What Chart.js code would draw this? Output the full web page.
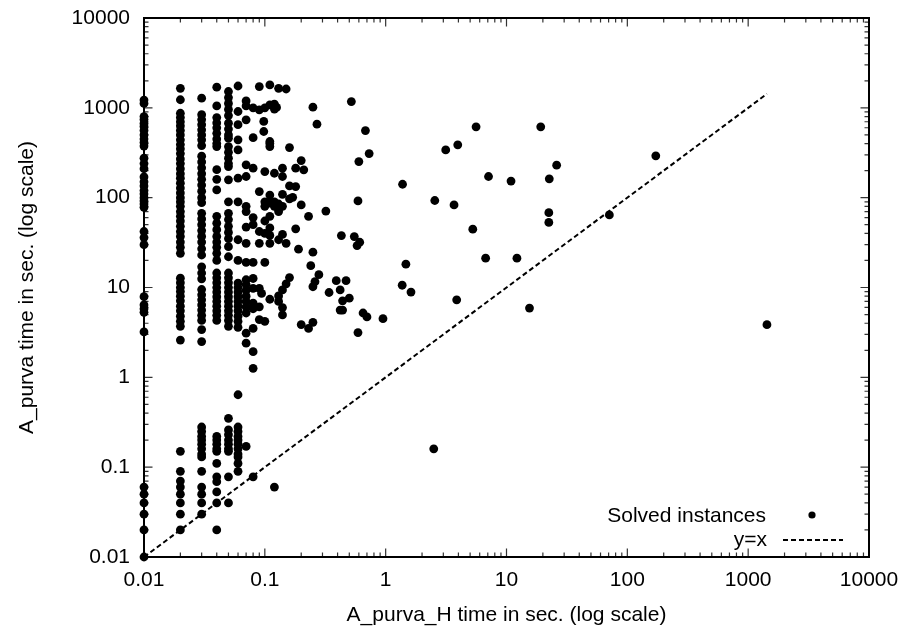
<!DOCTYPE html>
<html>
<head>
<meta charset="utf-8">
<script src="https://cdn.jsdelivr.net/npm/chart.js@4.4.1/dist/chart.umd.min.js"></script>
<style>
  body { margin: 0; background: #fff; }
  #wrap { width: 908px; height: 629px; }
</style>
</head>
<body>
<div id="wrap"><canvas id="grafico" width="908" height="629"></canvas></div>
<script>
// ticks (decades) used on both axes
const decades = [0.01, 0.1, 1, 10, 100, 1000, 10000];

// A_purva time (y) of instances whose A_purva_H time (x) sits on a discrete column
const col001 = [1220, 1120, 800, 740, 670, 620, 560, 500, 450, 410, 375, 275, 240, 210, 170, 150, 135, 120, 110, 100, 92, 85, 78, 42, 36, 30, 7.9, 6.4, 5.8, 5.3, 3.2, 0.06, 0.05, 0.04, 0.03, 0.02, 0.01];
const col002 = [1650, 1230, 870, 780, 700, 630, 560, 500, 440, 390, 350, 310, 270, 240, 210, 185, 165, 145, 128, 113, 100, 90, 80, 70, 62, 55, 48, 42, 37, 32, 28, 24, 12.7, 11.3, 10, 9, 8, 7.1, 6.2, 5.5, 4.8, 4.2, 3.7, 2.6, 0.15, 0.09, 0.07, 0.06, 0.05, 0.04, 0.03, 0.02];
const col003 = [1280, 840, 740, 650, 570, 500, 440, 380, 290, 250, 215, 185, 160, 138, 118, 100, 88, 67, 58, 50, 43, 37, 32, 27, 23, 17, 14.5, 12.5, 9.5, 8.3, 7.3, 6.4, 5.6, 4.9, 4.3, 3.4, 2.5, 0.28, 0.25, 0.22, 0.2, 0.18, 0.16, 0.14, 0.13, 0.09, 0.06, 0.05, 0.04, 0.03];
const col004 = [1700, 1050, 780, 680, 600, 520, 450, 400, 370, 205, 160, 122, 62, 52, 44, 37, 32, 28, 24, 20, 14.5, 12.8, 11.3, 10, 8.9, 7.9, 7, 6.2, 5.5, 4.9, 4.3, 0.22, 0.2, 0.18, 0.16, 0.15, 0.11, 0.078, 0.069, 0.053, 0.04, 0.02];
const col005 = [1520, 1300, 1120, 960, 820, 675, 580, 500, 460, 370, 320, 275, 240, 222, 158, 90, 67, 57, 48, 41, 35, 28.5, 22, 14.5, 12.8, 11.3, 10, 8.9, 7.9, 7, 6.2, 5.5, 4.9, 4.3, 3.7, 0.35, 0.26, 0.23, 0.2, 0.18, 0.16, 0.15, 0.078, 0.04];
const col006 = [1750, 910, 650, 440, 340, 165, 90, 34, 20, 11.2, 10, 8.9, 7.9, 7, 6.2, 5.5, 4.8, 4.2, 3.6, 0.64, 0.28, 0.25, 0.22, 0.2, 0.18, 0.16, 0.14, 0.13, 0.11, 0.09];
const col007 = [1195, 1050, 735, 232, 172, 80, 70, 47, 31, 19, 12.2, 10.8, 9.3, 8, 7, 6.1, 5.2, 3.1, 2.4, 0.17];
const col008 = [1000, 465, 213, 60, 50, 19, 12.6, 9.8, 6.7, 5.8, 3.5, 1.93, 1.26, 0.078];

const columnX = [0.01, 0.02, 0.03, 0.04, 0.05, 0.06, 0.07, 0.08];
const columnY = [col001, col002, col003, col004, col005, col006, col007, col008];

// the rest of the instances as [x, y]
const others = [
  [0.09,1726],[0.09,950],[0.09,117],[0.09,42],[0.09,31],[0.09,9.8],[0.094,8.6],[0.09,6.1],[0.09,4.4],
  [0.1,1000],[0.098,705],[0.098,545],[0.1,195],[0.1,90],[0.1,80],[0.1,55],[0.1,40],[0.1,19],[0.1,4.2],
  [0.11,1800],[0.13,1650],[0.15,1620],[0.11,1080],[0.12,1100],[0.12,970],[0.125,1010],
  [0.11,422],[0.11,400],[0.11,371],[0.12,187],[0.14,213],[0.14,172],
  [0.16,361],[0.2,259],[0.18,213],[0.21,204],[0.25,1018],[0.27,658],[0.52,1175],[0.68,558],[0.73,310],[0.6,252],
  [0.16,135],[0.18,133],[0.14,109],[0.16,97],[0.17,101],[0.11,107],[0.11,87],[0.12,80],[0.13,75],[0.11,62],[0.13,70],[0.12,90],[0.13,85],[0.14,80],
  [0.2,83],[0.23,62],[0.32,71],[0.59,92],[1.38,141],[3.14,340],[3.95,387],[5.6,614],[19.2,614],[26,230],[22.6,162],[7.1,172],[10.9,153],
  [2.55,93],[3.68,83],[5.26,44.6],[22.4,68],[22.4,53],[6.72,21.2],[12.2,21.2],
  [0.18,45],[0.14,39],[0.15,31],[0.11,46],[0.11,38],[0.11,31],[0.13,34],[0.19,26.7],[0.25,24.7],
  [0.43,37.8],[0.55,36.9],[0.61,31.9],[0.58,29.3],[0.24,17.5],[0.28,13.9],[0.26,11.6],[0.25,10.2],
  [0.16,12.9],[0.15,11],[0.14,9.4],[0.13,8.05],[0.11,7.4],[0.13,7.0],[0.14,5.97],[0.14,4.95],
  [0.39,11.9],[0.47,11.9],[0.42,9.4],[0.34,8.8],[0.5,7.6],[0.44,7.1],[0.42,5.6],[0.44,5.6],[0.65,5.2],[0.7,4.7],[0.95,4.5],
  [1.47,18.2],[1.37,10.6],[1.62,8.9],[3.87,7.3],[15.5,5.9],[0.2,3.87],[0.23,3.5],[0.25,4.1],[0.59,3.15],
  [172,292],[71,64.3],[1430,3.86],[2.5,0.16],[0.12,0.06]
];

// y = x reference line
const diagX = [0.01, 1430];

const fuente = '"Liberation Sans", Arial, Helvetica, sans-serif';

let puntos = [];
columnX.forEach(function(x, i){
  columnY[i].forEach(function(y){ puntos.push({x: x, y: y}); });
});
others.forEach(function(p){ puntos.push({x: p[0], y: p[1]}); });

const diag = diagX.map(v => ({x: v, y: v}));

// inward ticks on all four sides + border, like gnuplot
const marco = {
  id: 'marco',
  beforeDatasetsDraw(chart){
    const {ctx, chartArea: a, scales} = chart;
    const sx = scales.x, sy = scales.y;
    ctx.save();
    ctx.strokeStyle = '#333';
    ctx.lineWidth = 1.2;
    ctx.beginPath();
    decades.forEach(function(d, i){
      const vals = [[d, 8.5]];
      if(i < decades.length - 1){
        for(let m = 2; m <= 9; m++) vals.push([d * m, 4.5]);
      }
      vals.forEach(function(v){
        const px = sx.getPixelForValue(v[0]);
        ctx.moveTo(px, a.bottom); ctx.lineTo(px, a.bottom - v[1]);
        ctx.moveTo(px, a.top); ctx.lineTo(px, a.top + v[1]);
        const py = sy.getPixelForValue(v[0]);
        ctx.moveTo(a.left, py); ctx.lineTo(a.left + v[1], py);
        ctx.moveTo(a.right, py); ctx.lineTo(a.right - v[1], py);
      });
    });
    ctx.stroke();
    ctx.strokeStyle = '#000';
    ctx.lineWidth = 2;
    ctx.strokeRect(a.left, a.top, a.right - a.left, a.bottom - a.top);
    ctx.restore();
  }
};

// key in the lower right corner: text first, sample after
const leyenda = {
  id: 'leyenda',
  afterDraw(chart){
    const ctx = chart.ctx;
    ctx.save();
    ctx.font = '21px ' + fuente;
    ctx.fillStyle = '#000';
    ctx.textAlign = 'right';
    ctx.textBaseline = 'middle';
    ctx.fillText('Solved instances', 766, 516);
    ctx.fillText('y=x', 767, 540);
    ctx.beginPath();
    ctx.arc(812, 515, 3.6, 0, Math.PI * 2);
    ctx.fill();
    ctx.strokeStyle = '#000';
    ctx.lineWidth = 2;
    ctx.setLineDash([5, 3]);
    ctx.beginPath();
    ctx.moveTo(783, 540);
    ctx.lineTo(843, 540);
    ctx.stroke();
    ctx.restore();
  }
};

function ejeLog(titulo, pos){
  return {
    type: 'logarithmic',
    position: pos,
    min: 0.01,
    max: 10000,
    grid: { display: false, drawTicks: false },
    border: { display: false },
    afterBuildTicks: function(scale){
      scale.ticks = decades.map(v => ({value: v}));
    },
    ticks: {
      autoSkip: false,
      maxRotation: 0,
      color: '#000',
      padding: pos === 'bottom' ? 11 : 14,
      font: { family: fuente, size: 21 },
      callback: function(v){ return String(v); }
    },
    title: {
      display: true,
      text: titulo,
      color: '#000',
      font: { family: fuente, size: 21 },
      padding: pos === 'bottom' ? {top: 0, bottom: 1} : {top: 15, bottom: 0}
    },
    afterFit: function(scale){
      // fixed box sizes so the plot frame lands where the reference has it
      if(pos === 'bottom'){
        scale.height = 72;
        scale.paddingLeft = 0;
        scale.paddingRight = 0;
      }else{
        scale.width = 144;
        scale.paddingTop = 0;
        scale.paddingBottom = 0;
      }
    }
  };
}

new Chart(document.getElementById('grafico'), {
  type: 'scatter',
  plugins: [marco, leyenda],
  data: {
    datasets: [
      {
        label: 'Solved instances',
        data: puntos,
        pointRadius: 4.4,
        pointBackgroundColor: '#000',
        pointBorderWidth: 0,
        clip: false
      },
      {
        label: 'y=x',
        type: 'line',
        data: diag,
        borderColor: '#000',
        borderWidth: 2,
        borderDash: [5, 3],
        pointRadius: 0,
        fill: false,
        clip: false
      }
    ]
  },
  options: {
    responsive: false,
    animation: false,
    events: [],
    devicePixelRatio: 1,
    layout: { padding: { top: 18, right: 39, left: 0, bottom: 0 } },
    plugins: {
      legend: { display: false },
      tooltip: { enabled: false }
    },
    scales: {
      x: ejeLog('A_purva_H time in sec. (log scale)', 'bottom'),
      y: ejeLog('A_purva time in sec. (log scale)', 'left')
    }
  }
});
</script>
</body>
</html>
